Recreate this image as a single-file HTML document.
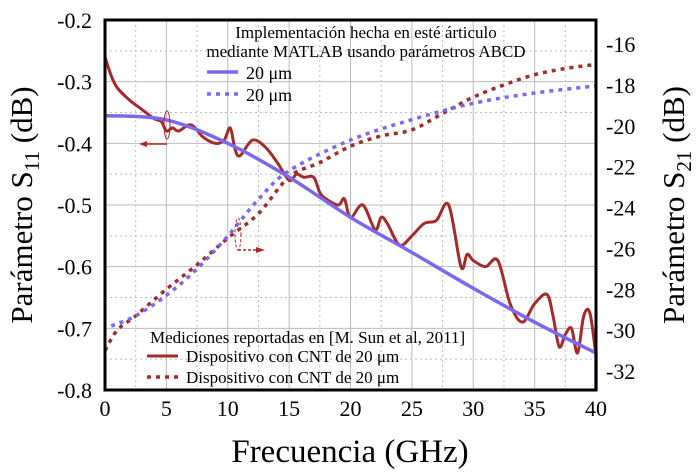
<!DOCTYPE html>
<html><head><meta charset="utf-8"><style>
body{margin:0;background:#fff}
svg{display:block;font-family:"Liberation Serif",serif}
</style></head><body>
<svg id="c" width="698" height="474" viewBox="0 0 698 474"></svg>
<script>
const freqTicks=[0,5,10,15,20,25,30,35,40];
const leftTicks=[-0.2,-0.3,-0.4,-0.5,-0.6,-0.7,-0.8];
const rightTicks=[-16,-18,-20,-22,-24,-26,-28,-30,-32];
const measS11F=[0,0.5,1,2,3,4,4.6,5,5.5,6,7,8,9,9.7,10.2,10.6,11,12,13,14,15,15.6,16.2,17,17.5,18,19,19.5,20,21,22,22.5,23,24,25,26,27,28,29,29.5,30,31,32,33,34,35,36,36.5,37,37.5,38,38.5,39,39.5,40];
const measS11V=[-0.26,-0.29,-0.31,-0.33,-0.345,-0.36,-0.365,-0.38,-0.375,-0.38,-0.37,-0.39,-0.40,-0.395,-0.375,-0.41,-0.42,-0.395,-0.405,-0.43,-0.46,-0.45,-0.455,-0.455,-0.48,-0.49,-0.50,-0.49,-0.52,-0.50,-0.54,-0.52,-0.53,-0.565,-0.55,-0.53,-0.525,-0.50,-0.60,-0.58,-0.59,-0.60,-0.59,-0.66,-0.69,-0.66,-0.645,-0.68,-0.73,-0.71,-0.70,-0.74,-0.68,-0.675,-0.745];
const simS11F=[0,5,10,15,20,25,30,35,40];
const simS11V=[-0.355,-0.362,-0.40,-0.455,-0.52,-0.577,-0.635,-0.69,-0.74];
const simS21F=[0.5,2.5,5,7.5,10,12.5,15,20,25,30,35,40];
const simS21V=[-29.8,-29.3,-28.3,-27,-25.4,-23.6,-22.2,-20.7,-19.7,-18.9,-18.4,-18.05];
const measS21F=[0,1,2.5,5,7.5,10,12.5,15,17.5,20,22.5,25,27.5,30,32.5,35,37.5,40];
const measS21V=[-31,-30,-29.3,-28,-26.8,-25.5,-24.3,-22.5,-21.8,-21,-20.5,-20.2,-19.4,-18.6,-18,-17.5,-17.2,-17.0];

const X0=105,X1=596,Y0=20,Y1=390;
const xs=f=>X0+(f/40)*(X1-X0);
const yl=v=>Y0+(-0.2-v)/0.6*(Y1-Y0);
const yr=v=>44+(-16-v)*(327/16);
const svg=document.getElementById('c');
const NS='http://www.w3.org/2000/svg';
function mk(t,a,p){const e=document.createElementNS(NS,t);for(const k in a)e.setAttribute(k,a[k]);(p||svg).appendChild(e);return e;}
const grid=mk('g',{});


for(let f=2.5;f<40;f+=2.5){const maj=f%5===0;mk('line',{x1:xs(f),x2:xs(f),y1:Y0,y2:Y1,stroke:'#bbb','stroke-dasharray':maj?'':'2,3'},grid);}
for(let v=-0.25;v>-0.8;v-=0.05){const maj=Math.abs(Math.round(v*20))%2===0;mk('line',{x1:X0,x2:X1,y1:yl(v),y2:yl(v),stroke:'#bbb','stroke-dasharray':maj?'':'2,3'},grid);}
function smooth(F,V,fy){
  const P=F.map((f,i)=>[xs(f),fy(V[i])]);
  let d='M'+P[0][0]+' '+P[0][1];
  for(let i=0;i<P.length-1;i++){
    const p0=P[Math.max(0,i-1)],p1=P[i],p2=P[i+1],p3=P[Math.min(P.length-1,i+2)];
    const c1=[p1[0]+(p2[0]-p0[0])/6,p1[1]+(p2[1]-p0[1])/6];
    const c2=[p2[0]-(p3[0]-p1[0])/6,p2[1]-(p3[1]-p1[1])/6];
    d+=' C'+c1.join(' ')+' '+c2.join(' ')+' '+p2.join(' ');
  }
  return d;
}
let e;
e=mk('path',{d:smooth(measS21F,measS21V,yr),fill:'none',stroke:'#a52a2a','stroke-width':3.5,'stroke-dasharray':'4,5'});


e=mk('path',{d:smooth(simS21F,simS21V,yr),fill:'none',stroke:'#7b68ee','stroke-width':3.5,'stroke-dasharray':'4,5'});


e=mk('path',{d:smooth(measS11F,measS11V,yl),fill:'none',stroke:'#a52a2a','stroke-width':3,'stroke-linejoin':'round'});


e=mk('path',{d:smooth(simS11F,simS11V,yl)+' L'+xs(40)+' '+yl(-0.8),fill:'none',stroke:'#7b68ee','stroke-width':3.5});


mk('ellipse',{cx:167,cy:125,rx:3,ry:14,fill:'none',stroke:'#a52a2a','stroke-width':1});
mk('line',{x1:167,y1:144,x2:143,y2:144,stroke:'#a52a2a','stroke-width':1.5});
mk('path',{d:'M139 144 L147 141 L147 147 Z',fill:'#a52a2a'});
mk('ellipse',{cx:238,cy:234,rx:3,ry:16,fill:'none',stroke:'#a52a2a','stroke-width':1,'stroke-dasharray':'3,2'});
mk('line',{x1:238,y1:250,x2:258,y2:250,stroke:'#a52a2a','stroke-width':1.5,'stroke-dasharray':'3,2'});
mk('path',{d:'M265 250 L256 247 L256 253 Z',fill:'#a52a2a'});
const fr=mk('rect',{x:X0,y:Y0,width:X1-X0,height:Y1-Y0,fill:'none',stroke:'#000','stroke-width':3});


function txt(x,y,s,sz,anc,name){const t=mk('text',{x:x,y:y,'font-size':sz,'text-anchor':anc||'middle',fill:'#000'});t.textContent=s;return t;}
freqTicks.forEach(f=>txt(xs(f),416,String(f),22,'middle','x-tick-label'));
leftTicks.forEach(v=>txt(92,yl(v)+8,v.toFixed(1),22,'end','left-tick-label'));
rightTicks.forEach(v=>txt(606,yr(v)+8,String(v),22,'start','right-tick-label'));
txt(350,462,'Frecuencia (GHz)',33,'middle','x-axis-title');
let t=mk('text',{transform:'translate(32,205) rotate(-90)','font-size':31,'text-anchor':'middle'});
t.innerHTML='Parámetro S<tspan font-size="21" dy="7">11</tspan><tspan dy="-7"> (dB)</tspan>';


t=mk('text',{transform:'translate(684,205) rotate(-90)','font-size':31,'text-anchor':'middle'});
t.innerHTML='Parámetro S<tspan font-size="21" dy="7">21</tspan><tspan dy="-7"> (dB)</tspan>';


txt(366,38,'Implementación hecha en esté árticulo',17,'middle','legend-top-title');
txt(366,57,'mediante MATLAB usando parámetros ABCD',17,'middle','legend-top-title');
mk('line',{x1:207,x2:238,y1:72,y2:72,stroke:'#7b68ee','stroke-width':3.5});
txt(246,79,'20 μm',18,'start','legend-entry');
mk('line',{x1:207,x2:238,y1:94,y2:94,stroke:'#7b68ee','stroke-width':3.5,'stroke-dasharray':'4,5'});
txt(246,101,'20 μm',18,'start','legend-entry');
txt(150,343,'Mediciones reportadas en [M. Sun et al, 2011]',17,'start','legend-bottom-title');
mk('line',{x1:147,x2:178,y1:356,y2:356,stroke:'#a52a2a','stroke-width':3});
txt(186,362,'Dispositivo con CNT de 20 μm',17,'start','legend-entry');
mk('line',{x1:147,x2:178,y1:377,y2:377,stroke:'#a52a2a','stroke-width':3.5,'stroke-dasharray':'4,5'});
txt(186,383,'Dispositivo con CNT de 20 μm',17,'start','legend-entry');
</script>
</body></html>
